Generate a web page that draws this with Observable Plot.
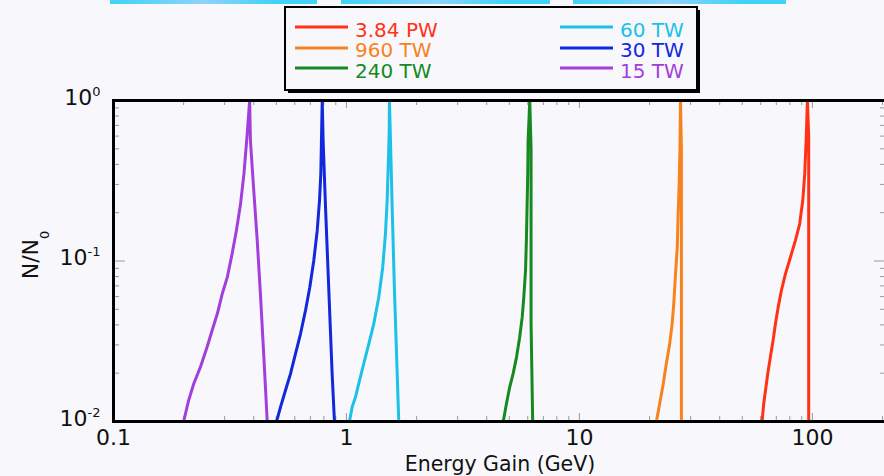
<!DOCTYPE html>
<html><head><meta charset="utf-8">
<script src="https://cdn.jsdelivr.net/npm/d3@7"></script>
<script src="https://cdn.jsdelivr.net/npm/@observablehq/plot@0.6"></script>
<style>
html,body{margin:0;padding:0;background:#f8f8fc;}
body{width:884px;height:476px;overflow:hidden;position:relative;font-family:"DejaVu Sans",sans-serif;}
#chart{position:absolute;left:0;top:0;}
#legend{position:absolute;left:283px;top:5px;}
.bar{position:absolute;top:0;height:4px;z-index:2;background:linear-gradient(90deg,#3fd3f7,#8fd2fa 45%,#3fd3f7 80%);}
</style>
</head><body>
<div id="chart"></div>
<div id="legend"></div>
<div class="bar" style="left:110px;width:207px"></div>
<div class="bar" style="left:341px;width:209px"></div>
<div class="bar" style="left:573px;width:213px"></div>
<script>
// ---- data ----
const seriesNames  = ["3.84 PW", "960 TW", "240 TW", "60 TW", "30 TW", "15 TW"];
const seriesColors = ["#ff3216", "#f7821e", "#16891f", "#1cc0e8", "#1228dc", "#a23fdc"];

const gain384PW = [60.8, 61.8, 62.9, 64.3, 66.0, 67.8, 69.4, 71.3, 73.6, 76.6, 80.5, 84.5, 88.2, 90.9, 92.7, 94.0, 95.2, 96.4, 96.4];
const frac384PW = [0.01, 0.0129, 0.0156, 0.0198, 0.0252, 0.032, 0.0406, 0.0516, 0.0655, 0.0832, 0.1056, 0.134, 0.1705, 0.238, 0.349, 0.563, 1.0, 0.6, 0.01];

const gain960TW = [21.4, 22.1, 22.9, 23.6, 24.4, 25.0, 25.4, 25.8, 26.3, 26.5, 26.8, 27.0, 27.15, 27.4, 27.4];
const frac960TW = [0.01, 0.0129, 0.0172, 0.0229, 0.0305, 0.0406, 0.0541, 0.0793, 0.122, 0.1875, 0.303, 0.488, 1.0, 0.5, 0.01];

const gain240TW = [4.71, 4.86, 5.02, 5.19, 5.37, 5.54, 5.68, 5.77, 5.87, 5.92, 5.96, 6.00, 6.02, 6.08, 6.12, 6.20, 6.20, 6.30];
const frac240TW = [0.01, 0.0129, 0.0164, 0.0198, 0.0252, 0.0335, 0.0447, 0.0595, 0.0873, 0.134, 0.216, 0.349, 0.563, 0.787, 1.0, 0.5, 0.0408, 0.01];

const gain60TW = [1.030, 1.058, 1.093, 1.129, 1.186, 1.247, 1.310, 1.376, 1.431, 1.470, 1.495, 1.510, 1.525, 1.529, 1.545, 1.571, 1.607, 1.651, 1.677];
const frac60TW = [0.01, 0.0123, 0.0142, 0.0172, 0.0229, 0.0305, 0.0406, 0.0595, 0.0915, 0.1477, 0.238, 0.384, 0.621, 1.0, 0.563, 0.216, 0.0655, 0.0198, 0.01];

const gain30TW = [0.501, 0.521, 0.547, 0.575, 0.604, 0.635, 0.667, 0.696, 0.724, 0.749, 0.766, 0.776, 0.781, 0.787, 0.794, 0.813, 0.840, 0.868, 0.888];
const frac30TW = [0.01, 0.0123, 0.0156, 0.0198, 0.0264, 0.0352, 0.0492, 0.0687, 0.1007, 0.155, 0.238, 0.349, 0.563, 1.0, 0.563, 0.216, 0.0655, 0.0198, 0.01];

const gain15TW = [0.200, 0.210, 0.221, 0.236, 0.252, 0.265, 0.279, 0.293, 0.308, 0.323, 0.337, 0.351, 0.363, 0.375, 0.384, 0.387, 0.400, 0.414, 0.428, 0.442, 0.457];
const frac15TW = [0.01, 0.0135, 0.0172, 0.0218, 0.029, 0.0369, 0.0469, 0.0625, 0.0793, 0.111, 0.155, 0.227, 0.349, 0.621, 1.0, 0.563, 0.275, 0.134, 0.0595, 0.0252, 0.01];

const xTicks = [0.1, 1, 10, 100];
const xTickLabels = ["0.1", "1", "10", "100"];
const yTicks = [0.01, 0.1, 1];
const yTickExponents = ["-2", "-1", "0"];
const xMinor = [0.2,0.3,0.4,0.5,0.6,0.7,0.8,0.9,2,3,4,5,6,7,8,9,20,30,40,50,60,70,80,90,200];
const yMinor = [0.02,0.03,0.04,0.05,0.06,0.07,0.08,0.09,0.2,0.3,0.4,0.5,0.6,0.7,0.8,0.9];
const xTitle = "Energy Gain (GeV)";
const yTitleMain = "N/N";
const yTitleSub = "0";

// ---- build ----
const gains = [gain384PW, gain960TW, gain240TW, gain60TW, gain30TW, gain15TW];
const fracs = [frac384PW, frac960TW, frac240TW, frac60TW, frac30TW, frac15TW];
const series = seriesNames.map((name, i) => ({
  name, color: seriesColors[i],
  rows: gains[i].map((g, j) => ({E: g, N: fracs[i][j]}))
}));

const W = 887, H = 476, mL = 113, mR = 1, mT = 100, mB = 55;
const plotW = W - mL - mR, plotH = H - mT - mB;
const tickColor = "#9a9a9a";

const chart = Plot.plot({
  width: W, height: H,
  marginLeft: mL, marginRight: mR, marginTop: mT, marginBottom: mB,
  style: {background: "#f8f8fc", fontFamily: "DejaVu Sans, sans-serif", overflow: "visible", maxWidth: "none", color: "#111"},
  x: {type: "log", domain: [0.1, 208]},
  y: {type: "log", domain: [0.01, 1]},
  marks: [
    Plot.tickX(xMinor, {x: d => d, stroke: tickColor, insetTop: plotH - 5}),
    Plot.tickX(xMinor, {x: d => d, stroke: tickColor, insetBottom: plotH - 5}),
    Plot.tickX(xTicks, {x: d => d, stroke: tickColor, insetTop: plotH - 8}),
    Plot.tickX(xTicks, {x: d => d, stroke: tickColor, insetBottom: plotH - 8}),
    Plot.tickY(yMinor, {y: d => d, stroke: tickColor, insetRight: plotW - 6}),
    Plot.tickY(yMinor, {y: d => d, stroke: tickColor, insetLeft: plotW - 6}),
    Plot.tickY(yTicks, {y: d => d, stroke: tickColor, insetRight: plotW - 12}),
    Plot.tickY(yTicks, {y: d => d, stroke: tickColor, insetLeft: plotW - 12}),
    Plot.axisX({anchor: "bottom", ticks: xTicks, tickSize: 0, tickPadding: 8, fontSize: 22,
      tickFormat: d => xTickLabels[xTicks.indexOf(d)], label: null}),
    Plot.axisY({anchor: "left", ticks: yTicks, tickSize: 0, tickPadding: 13, fontSize: 22, dy: -3,
      tickFormat: d => "10^" + yTickExponents[yTicks.indexOf(d)], label: null}),
    ...series.map(s => Plot.line(s.rows, {x: "E", y: "N", stroke: s.color, strokeWidth: 3, strokeLinejoin: "round"})),
    Plot.frame({stroke: "#000", strokeWidth: 3}),
    Plot.text([xTitle], {text: d => d, frameAnchor: "bottom", dy: 49, lineAnchor: "bottom", fontSize: 20.5, fill: "#111"})
  ]
});
document.getElementById("chart").appendChild(chart);

// superscript exponents on y tick labels
d3.select(chart).selectAll('g[aria-label="y-axis tick label"] text').each(function() {
  const t = d3.select(this);
  const parts = t.text().split("^");
  t.text(null);
  t.append("tspan").text(parts[0]);
  t.append("tspan").attr("dy", -9).attr("font-size", 13).text(parts[1]);
});

// y title with subscript
const yt = d3.select(chart).append("text")
  .attr("transform", "translate(38,255) rotate(-90)")
  .attr("text-anchor", "middle").attr("font-size", 22).attr("fill", "#111");
yt.append("tspan").text(yTitleMain);
yt.append("tspan").attr("dy", 11).attr("font-size", 13).text(yTitleSub);

// legend box
const lg = d3.select("#legend").append("svg").attr("width", 425).attr("height", 95);
lg.append("rect").attr("x", 5).attr("y", 5).attr("width", 412).attr("height", 83).attr("fill", "#000");
lg.append("rect").attr("x", 2).attr("y", 2).attr("width", 412).attr("height", 83)
  .attr("fill", "#f8f8fc").attr("stroke", "#000").attr("stroke-width", 2);
const colX = [12, 277], textX = [72, 337], rowY = [22, 43, 63], baseY = [32, 52, 73];
series.forEach((s, i) => {
  const c = Math.floor(i / 3), r = i % 3;
  lg.append("line").attr("x1", colX[c]).attr("x2", colX[c] + 53).attr("y1", rowY[r]).attr("y2", rowY[r])
    .attr("stroke", s.color).attr("stroke-width", 3);
  lg.append("text").attr("x", textX[c]).attr("y", baseY[r]).attr("fill", s.color)
    .attr("font-size", 20).attr("font-family", "DejaVu Sans, sans-serif").text(s.name);
});
</script>
</body></html>
